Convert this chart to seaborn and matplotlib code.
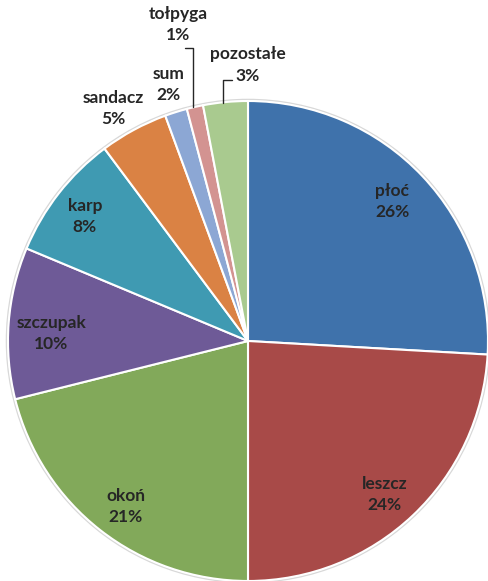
import matplotlib
matplotlib.use("Agg")
import matplotlib.pyplot as plt
import matplotlib.patches as mpatches
import seaborn as sns

categories = ["płoć", "leszcz", "okoń", "szczupak", "karp", "sandacz", "sum", "tołpyga", "pozostałe"]
values = [25.9, 24.1, 21.1, 10.2, 8.5, 4.6, 1.5, 1.1, 3.0]
pct_labels = ["26%", "24%", "21%", "10%", "8%", "5%", "2%", "1%", "3%"]

colors = ["#3F72AB", "#A84A48", "#82A95A", "#6E5A97", "#3F9AB2",
          "#DA8244", "#8CA7D4", "#D39391", "#A9CA8F"]
label_pos = [(0.60, 0.58), (0.57, -0.64), (-0.51, -0.69), (-0.82, 0.03),
             (-0.68, 0.52), (-0.56, 0.97), (-0.33, 1.07), (-0.29, 1.32), (0.0, 1.15)]

sns.set_theme(style="white")
plt.rcParams['font.family'] = ['Lato', 'DejaVu Sans']

fig = plt.figure(figsize=(4.88, 5.81), dpi=100)
ax = fig.add_axes([0, 0, 1, 1])
ax.add_patch(mpatches.Circle((0, 0), 1.006, facecolor="none", edgecolor="#D8D8D8", lw=1.2))
ax.pie(values, colors=colors, startangle=90, counterclock=False, radius=1.0,
       wedgeprops=dict(edgecolor="white", linewidth=1.5))
ax.set_xlim(-248 / 240, 240 / 240)
ax.set_ylim(-240 / 240, 341 / 240)
ax.set_aspect("equal")
ax.axis("off")

for cat, pct, (x, y) in zip(categories, pct_labels, label_pos):
    ax.text(x, y, f"{cat}\n{pct}", ha="center", va="center", fontsize=12.5,
            fontweight="bold", color="#262626", linespacing=1.4)

# leader lines
ax.plot([-0.262, -0.229, -0.229], [1.22, 1.22, 0.975], color="#262626", lw=1)
ax.plot([-0.065, -0.104, -0.104], [1.0875, 1.0875, 0.99], color="#262626", lw=1)

fig.savefig("out.png", dpi=100, facecolor="white")
